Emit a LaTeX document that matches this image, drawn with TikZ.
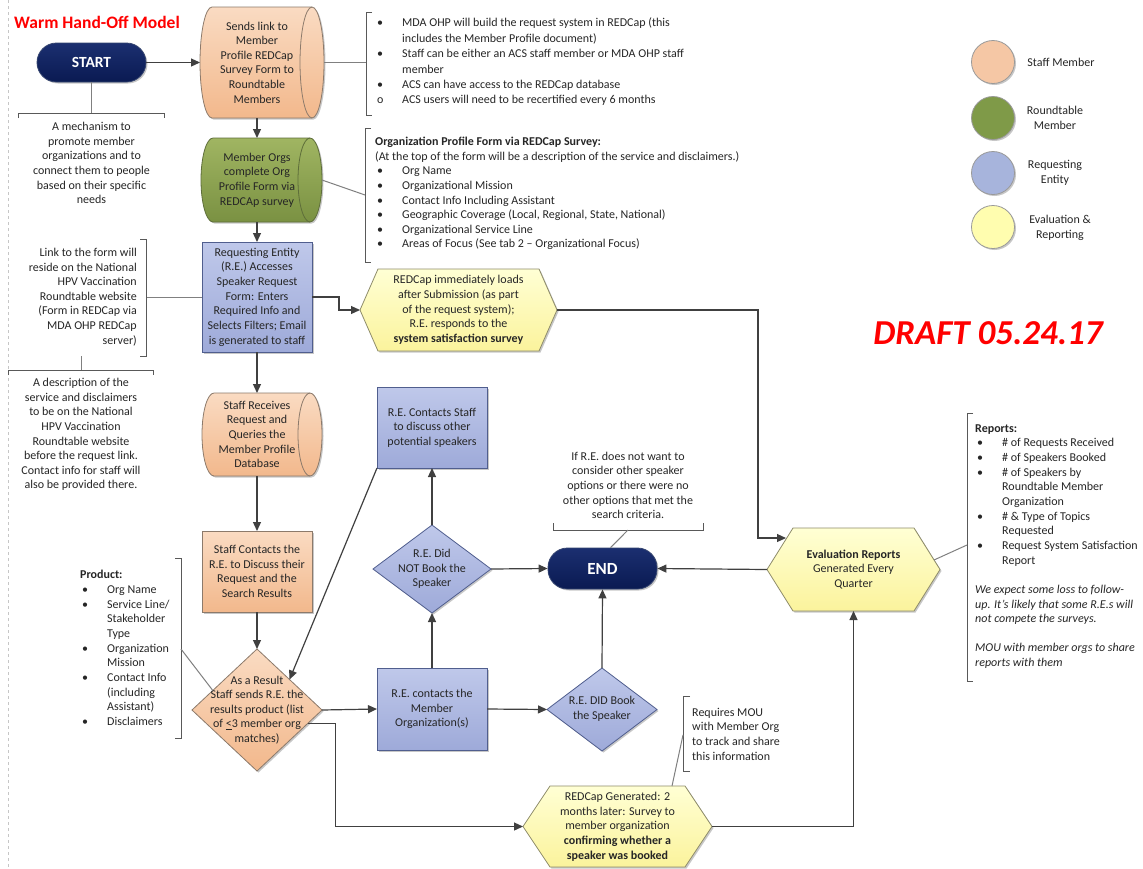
\documentclass[tikz,border=0pt]{standalone}
\usepackage{fontspec}
\setmainfont{Carlito}
\usetikzlibrary{arrows.meta,shapes.geometric,calc,shadows}

\definecolor{linec}{HTML}{404040}
\definecolor{brkc}{HTML}{595959}
\definecolor{leadc}{HTML}{808080}
\definecolor{txtc}{HTML}{262626}
\definecolor{peachT}{HTML}{FADBC2}
\definecolor{peachB}{HTML}{F2B88C}
\definecolor{peachD}{HTML}{8C7A6B}
\definecolor{greenT}{HTML}{A0B562}
\definecolor{greenB}{HTML}{7A9142}
\definecolor{greenD}{HTML}{5E6E3A}
\definecolor{blueT}{HTML}{BFC8EA}
\definecolor{blueB}{HTML}{9EAAD9}
\definecolor{blueD}{HTML}{505E8E}
\definecolor{yelT}{HTML}{FFFFD4}
\definecolor{yelB}{HTML}{FBF39C}
\definecolor{yelD}{HTML}{8E8C6A}
\definecolor{navyT}{HTML}{1B2F70}
\definecolor{navyB}{HTML}{0A1A52}
\definecolor{navyD}{HTML}{34446F}
\definecolor{draftred}{HTML}{FF0000}
\definecolor{lgPeach}{HTML}{F5C7A5}
\definecolor{lgGreen}{HTML}{7F9A48}
\definecolor{lgBlue}{HTML}{A7B4DC}
\definecolor{lgYel}{HTML}{FFFDAF}

\newcommand\nbul{\makebox[27pt][l]{\hspace*{2pt}\textbullet}}
\newcommand\nind{\hspace*{27pt}}
\newcommand\nsub{\makebox[27pt][l]{\hspace*{2pt}o}}
\newcommand\colx{257}

% cylinder outline: x0 y0 x1 y1 fillstyle linestyle
\newcommand\cylshape[6]{%
 \pgfmathsetmacro\cxl{#1+12}\pgfmathsetmacro\cxr{#3-12}%
 \pgfmathsetmacro\cym{(#2+#4)/2}\pgfmathsetmacro\cka{0.552*(#4-#2)/2}%
 \pgfmathsetmacro\ckx{0.552*12}%
 \path[#5] (\cxl,#2) -- (\cxr,#2) .. controls ({\cxr+\ckx},#2) and (#3,{\cym-\cka}) .. (#3,\cym) .. controls (#3,{\cym+\cka}) and ({\cxr+\ckx},#4) .. (\cxr,#4) -- (\cxl,#4) .. controls ({\cxl-\ckx},#4) and (#1,{\cym+\cka}) .. (#1,\cym) .. controls (#1,{\cym-\cka}) and ({\cxl-\ckx},#2) .. (\cxl,#2) -- cycle;
 \draw[#6] (\cxr,#2) .. controls ({\cxr-\ckx},#2) and ({\cxr-12},{\cym-\cka}) .. ({\cxr-12},\cym) .. controls ({\cxr-12},{\cym+\cka}) and ({\cxr-\ckx},#4) .. (\cxr,#4);
}
% name x0 y0 x1 y1 fillstyle linestyle text
\newcommand\cyl[8]{%
 \cylshape{#2}{#3}{#4}{#5}{#6}{#7}%
 \node[hold, minimum width={#4-#2}, minimum height={#5-#3}] (#1) at ({(#2+#4)/2},{(#3+#5)/2}) {};
 \node[lbl] (#1t) at (\colx,{(#3+#5)/2}) {#8};
}
% name x0 y0 x1 y1 inset style text
\newcommand\hex[8]{%
 \pgfmathsetmacro\hym{(#3+#5)/2}%
 \path[#7] (#2,\hym) -- ({#2+#6},#3) -- ({#4-#6},#3) -- (#4,\hym) -- ({#4-#6},#5) -- ({#2+#6},#5) -- cycle;
 \node[hold, minimum width={#4-#2}, minimum height={#5-#3}, align=center, font=\fontsize{12}{14.65}\selectfont, text=txtc] (#1) at ({(#2+#4)/2},\hym) {#8};
}

\tikzset{
 shadowed/.style={drop shadow={shadow xshift=1.5pt, shadow yshift=-1.5pt, opacity=0.22, fill=black}},
 peachS/.style={top color=peachT, bottom color=peachB, draw=peachD, line width=0.8pt, shadowed},
 peachL/.style={draw=peachD, line width=0.8pt},
 greenS/.style={top color=greenT, bottom color=greenB, draw=greenD, line width=0.8pt, shadowed},
 greenL/.style={draw=greenD, line width=0.8pt},
 blueS/.style={top color=blueT, bottom color=blueB, draw=blueD, line width=0.8pt, shadowed},
 yelS/.style={top color=yelT, bottom color=yelB, draw=yelD, line width=0.8pt, shadowed},
 hold/.style={rectangle, draw=none, inner sep=0pt, outer sep=0pt},
 lbl/.style={inner sep=0pt, align=center, text=txtc, font=\fontsize{12}{14.65}\selectfont},
 rect/.style={rectangle, inner sep=0pt, outer sep=0pt, align=center, text=txtc, font=\fontsize{12}{14.65}\selectfont},
 dia/.style={diamond, inner sep=0pt, outer sep=0pt, aspect=1},
 pill/.style={rectangle, rounded corners=19.5pt, top color=navyT, bottom color=navyB, draw=navyD, line width=0.8pt, text=white, font=\bfseries\fontsize{15.5}{18}\selectfont, minimum width=109pt, minimum height=39pt, inner sep=0pt, shadowed},
 conn/.style={draw=linec, line width=1.2pt, -{Triangle[length=9pt,width=8pt]}},
 brk/.style={draw=brkc, line width=0.9pt},
 lead/.style={draw=leadc, line width=1pt},
 note/.style={inner sep=0pt, text=txtc, font=\fontsize{12}{14.65}\selectfont},
 legc/.style={circle, minimum size=43pt, inner sep=0pt, draw=gray!80, line width=0.8pt, shadowed},
}

\begin{document}
\begin{tikzpicture}[x=1pt,y=-1pt]
\useasboundingbox (0,0) rectangle (1143,868);
\fill[white] (0,0) rectangle (1143,868);
\draw[gray!45, dashed, line width=0.5pt] (8,0) -- (8,868);

\coordinate (col) at (\colx,0);

% title
\node[anchor=west, inner sep=0pt, text=draftred, font=\bfseries\fontsize{17.5}{20}\selectfont] (title) at (14,22) {Warm Hand-Off Model};

% draft stamp
\node[inner sep=0pt, text=draftred, font=\bfseries\itshape\fontsize{35}{40}\selectfont] (draft) at (988,333) {DRAFT 05.24.17};

% main flow shapes
\node[pill] (START) at (91.5,62.5) {START};
\cyl{S1}{200}{7}{324}{118}{peachS}{peachL}{Sends link to\\Member\\Profile REDCap\\Survey Form to\\Roundtable\\Members}
\cyl{S2}{201}{138}{322}{222}{greenS}{greenL}{Member Orgs\\complete Org\\Profile Form via\\REDCAp survey}
\node[rect, blueS, minimum width=110pt, minimum height=110pt] (R1) at (257,297) {Requesting Entity\\(R.E.) Accesses\\Speaker Request\\Form: Enters\\Required Info and\\Selects Filters; Email\\is generated to staff};
\cyl{S3}{202}{393}{322}{476}{peachS}{peachL}{Staff Receives\\Request and\\Queries the\\Member Profile\\Database}
\node[rect, peachS, minimum width=110pt, minimum height=81pt] (P1) at (257,571.5) {Staff Contacts the\\R.E. to Discuss their\\Request and the\\Search Results};
\node[dia, peachS, minimum width=130pt, minimum height=122pt] (D1) at (257,710) {};
\node[lbl] (D1t) at (257,710) {As a Result\\Staff sends R.E. the\\results product (list\\of \underline{<}3 member org\\matches)};

\node[rect, blueS, minimum width=110pt, minimum height=81pt] (B2) at (432,427.5) {R.E. Contacts Staff\\to discuss other\\potential speakers};
\node[dia, blueS, minimum width=118pt, minimum height=88pt] (D2) at (432,569) {};
\node[lbl] (D2t) at (432,569) {R.E. Did\\NOT Book the\\Speaker};
\node[rect, blueS, minimum width=110pt, minimum height=82pt] (B3) at (432,709) {R.E. contacts the\\Member\\Organization(s)};
\node[pill, minimum height=41pt, font=\bfseries\fontsize{17}{20}\selectfont] (END) at (602.5,568.5) {END};
\node[dia, blueS, minimum width=110pt, minimum height=83pt] (D3) at (602,709.5) {};
\node[lbl] (D3t) at (602,709) {R.E. DID Book\\the Speaker};

\hex{H1}{360}{269}{557}{351}{18}{yelS}{REDCap immediately loads\\after Submission (as part\\of the request system);\\R.E. responds to the\\\textbf{system satisfaction survey}}
\hex{E1}{767}{528}{940}{611}{26}{yelS}{\textbf{Evaluation Reports}\\Generated Every\\Quarter}
\hex{H2}{523}{786}{712}{867}{27}{yelS}{REDCap Generated: 2\\months later: Survey to\\member organization\\\textbf{confirming whether a}\\\textbf{speaker was booked}}

% legend
\node[legc, fill=lgPeach] (L1) at (993,62) {};
\node[legc, fill=lgGreen] (L2) at (993,118) {};
\node[legc, fill=lgBlue] (L3) at (993,173) {};
\node[legc, fill=lgYel] (L4) at (993,227) {};
\node[lbl] (L1t) at (1061,62.5) {Staff Member};
\node[lbl] (L2t) at (1055,118) {Roundtable\\Member};
\node[lbl] (L3t) at (1055,173) {Requesting\\Entity};
\node[lbl] (L4t) at (1060,228) {Evaluation \&\\Reporting};

% connectors
\draw[conn] (START.east) -- (S1.west);
\draw[conn] (S1.south -| col) -- (S2.north -| col);
\draw[conn] (S2.south -| col) -- (R1.north);
\draw[conn] (R1.south) -- (S3.north -| col);
\draw[conn] (S3.south -| col) -- (P1.north);
\draw[conn] (P1.south) -- (D1.north);
\draw[conn] (R1.east) -- ++(27,0) |- (H1.west);
\coordinate (E1in) at (786,538);
\draw[conn] (H1.east) -- ++(201,0) |- (E1in);
\draw[conn] (D1.east) -- (B3.west);
\draw[conn] (B3.north) -- (D2.south);
\draw[conn] (D2.north) -- (B2.south);
\draw[conn] (B2.south west) -- (D1.north east);
\draw[conn] (D2.east) -- (END.west);
\draw[conn] (B3.east) -- (D3.west);
\draw[conn] (D3.north) -- (END.south);
\draw[conn] (E1.west) -- (END.east);
\coordinate (D1out) at ($(D1.east)!0.22!(D1.south)$);
\draw[conn] (D1out) -- ++(28,0) |- (H2.west);
\draw[conn] (H2.east) -| (E1.south);

% notes: START
\draw[lead] (START.south) -- (91.5,113);
\draw[brk] (18,118) -- (18,113) -- (164,113) -- (164,118);
\node[lbl] (N0) at (91.5,163) {A mechanism to\\promote member\\organizations and to\\connect them to people\\based on their specific\\needs};

% notes: top
\draw[lead] (S1.east) -- (366,62.5);
\draw[brk] (372,12) -- (366,12) -- (366,115) -- (372,115);
\node[note, anchor=west, align=left, font=\fontsize{12}{15.4}\selectfont] (N1) at (375,62) {\nbul MDA OHP will build the request system in REDCap (this\\\nind includes the Member Profile document)\\\nbul Staff can be either an ACS staff member or MDA OHP staff\\\nind member\\\nbul ACS can have access to the REDCap database\\\nsub ACS users will need to be recertified every 6 months};

% notes: org profile
\draw[lead] (S2.east) -- (365,195);
\draw[brk] (371,128) -- (365,128) -- (365,262) -- (371,262);
\node[note, anchor=west, align=left] (N2) at (375,193.5) {\textbf{Organization Profile Form via REDCap Survey:}\\(At the top of the form will be a description of the service and disclaimers.)\\\nbul Org Name\\\nbul Organizational Mission\\\nbul Contact Info Including Assistant\\\nbul Geographic Coverage (Local, Regional, State, National)\\\nbul Organizational Service Line\\\nbul Areas of Focus (See tab 2 – Organizational Focus)};

% notes: link
\draw[lead] (R1.west) -- (146,297);
\draw[brk] (140,239) -- (146,239) -- (146,356) -- (140,356);
\node[note, anchor=east, align=right] (N3) at (137,297) {Link to the form will\\reside on the National\\HPV Vaccination\\Roundtable website\\(Form in REDCap via\\MDA OHP REDCap\\server)};
\draw[lead] (81,356) -- (81,370);
\draw[brk] (8,375) -- (8,370) -- (153,370) -- (153,375);
\node[lbl] (N4) at (81,434.5) {A description of the\\service and disclaimers\\to be on the National\\HPV Vaccination\\Roundtable website\\before the request link.\\Contact info for staff will\\also be provided there.};

% notes: product
\draw[brk] (175,558) -- (181,558) -- (181,738) -- (175,738);
\coordinate (D1ul) at ($(D1.west)!0.32!(D1.north)$);
\draw[lead] (181,649) -- (D1ul);
\node[note, anchor=west, align=left] (N5) at (80,648) {\textbf{Product:}\\\nbul Org Name\\\nbul Service Line/\\\nind Stakeholder\\\nind Type\\\nbul Organization\\\nind Mission\\\nbul Contact Info\\\nind (including\\\nind Assistant)\\\nbul Disclaimers};

% notes: END
\draw[brk] (553,523) -- (553,530) -- (703,530) -- (703,523);
\draw[lead] (628,530) -- ([xshift=8pt]END.north);
\node[lbl] (N6) at (628,485.5) {If R.E. does not want to\\consider other speaker\\options or there were no\\other options that met the\\search criteria.};

% notes: MOU
\draw[brk] (690,696) -- (683,696) -- (683,771) -- (690,771);
\draw[lead] (683,735) -- (672,786);
\node[note, anchor=west, align=left] (N7) at (692,734) {Requires MOU\\with Member Org\\to track and share\\this information};

% notes: reports
\draw[brk] (973,413) -- (967,413) -- (967,681) -- (973,681);
\coordinate (E1r) at (934,560);
\draw[lead] (E1r) -- (967,545);
\node[note, anchor=west, align=left] (N8) at (975,546.5) {\textbf{Reports:}\\\nbul \# of Requests Received\\\nbul \# of Speakers Booked\\\nbul \# of Speakers by\\\nind Roundtable Member\\\nind Organization\\\nbul \# \& Type of Topics\\\nind Requested\\\nbul Request System Satisfaction\\\nind Report\\[14.65pt]\textit{We expect some loss to follow-}\\\textit{up. It’s likely that some R.E.s will}\\\textit{not compete the surveys.}\\[14.65pt]\textit{MOU with member orgs to share}\\\textit{reports with them}};
\end{tikzpicture}
\end{document}
